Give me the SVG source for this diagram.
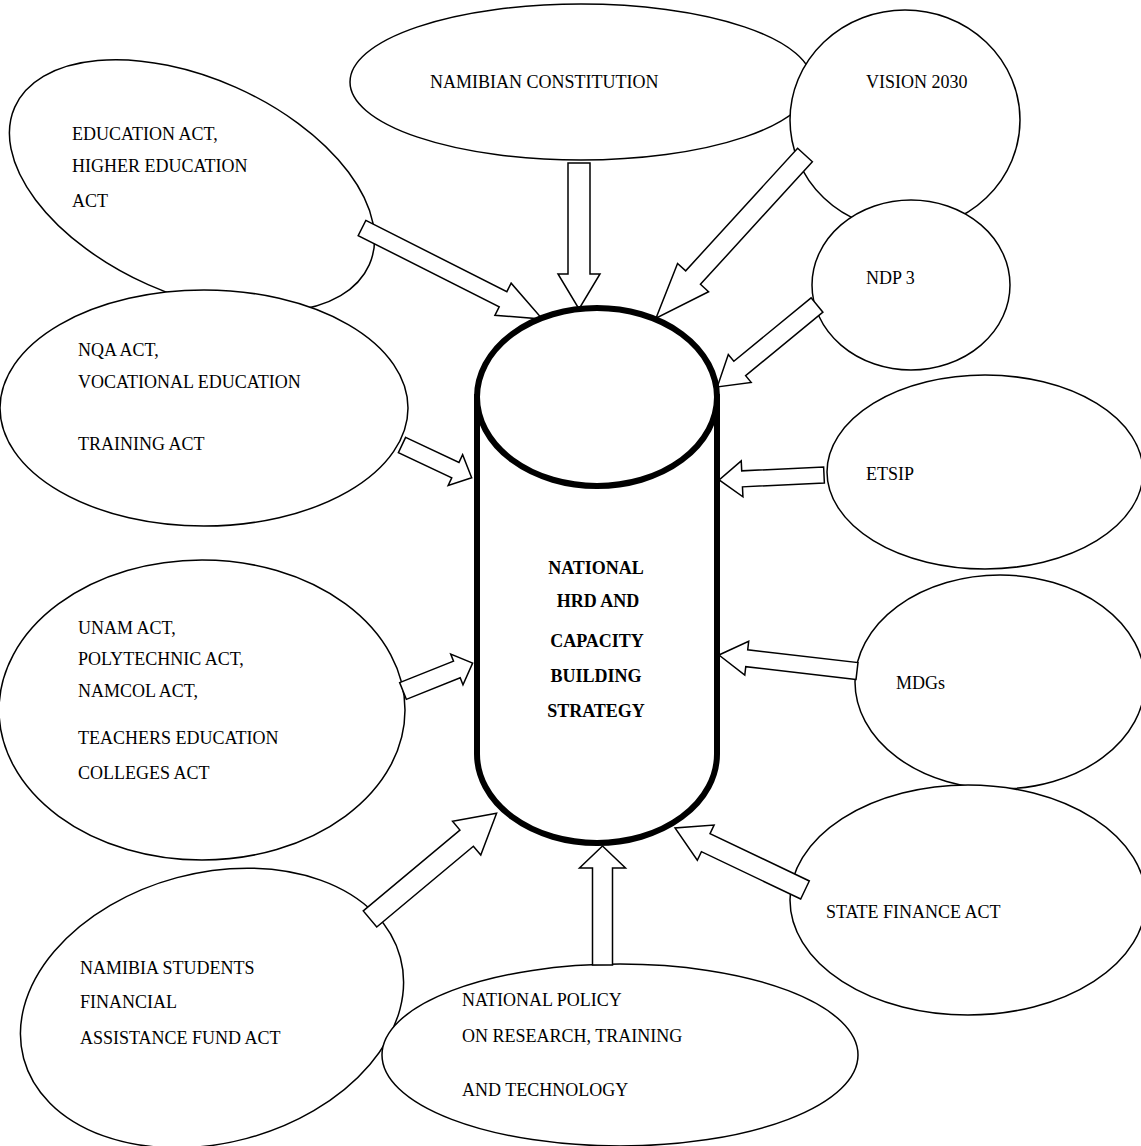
<svg xmlns="http://www.w3.org/2000/svg" width="1141" height="1146" viewBox="0 0 1141 1146">
<style>
.n ellipse{fill:#fff;stroke:#000;stroke-width:1.5}
.a polygon{fill:#fff;stroke:#000;stroke-width:1.5;stroke-linejoin:miter}
text{font-family:"Liberation Serif","Times New Roman",serif;font-size:18px;fill:#000}
.b{font-weight:bold;text-anchor:middle}
</style>
<rect width="1141" height="1146" fill="#fff"/>
<g class="n">
<g id="constitution"><ellipse cx="581" cy="82" rx="231" ry="78"/><text x="430" y="88">NAMIBIAN CONSTITUTION</text></g>
<g id="vision"><ellipse cx="905" cy="120" rx="115" ry="110"/><text x="866" y="88">VISION 2030</text></g>
<g id="education"><ellipse cx="192" cy="186" rx="194" ry="108" transform="rotate(24 192 186)"/><text x="72" y="140">EDUCATION ACT,</text><text x="72" y="172">HIGHER EDUCATION</text><text x="72" y="207">ACT</text></g>
<g id="ndp"><ellipse cx="911" cy="285" rx="99" ry="85"/><text x="866" y="284">NDP 3</text></g>
<g id="nqa"><ellipse cx="204" cy="408" rx="204" ry="118"/><text x="78" y="356">NQA ACT,</text><text x="78" y="388">VOCATIONAL EDUCATION</text><text x="78" y="450">TRAINING ACT</text></g>
<g id="etsip"><ellipse cx="985" cy="472" rx="158" ry="97"/><text x="866" y="480">ETSIP</text></g>
<g id="unam"><ellipse cx="202" cy="710" rx="203" ry="150"/><text x="78" y="634">UNAM ACT,</text><text x="78" y="665">POLYTECHNIC ACT,</text><text x="78" y="697">NAMCOL ACT,</text><text x="78" y="744">TEACHERS EDUCATION</text><text x="78" y="779">COLLEGES ACT</text></g>
<g id="mdgs"><ellipse cx="1000" cy="682" rx="145" ry="107"/><text x="896" y="689">MDGs</text></g>
<g id="statefinance"><ellipse cx="968" cy="900" rx="178" ry="115"/><text x="826" y="918">STATE FINANCE ACT</text></g>
<g id="students"><ellipse cx="212" cy="1008" rx="195" ry="135" transform="rotate(-15 212 1008)"/><text x="80" y="974">NAMIBIA STUDENTS</text><text x="80" y="1008">FINANCIAL</text><text x="80" y="1044">ASSISTANCE FUND ACT</text></g>
<g id="policy"><ellipse cx="620" cy="1055" rx="238" ry="91"/><text x="462" y="1006">NATIONAL POLICY</text><text x="462" y="1042">ON RESEARCH, TRAINING</text><text x="462" y="1096">AND TECHNOLOGY</text></g>
</g>
<g id="connectors" class="a">
<polygon transform="translate(362 228) rotate(26.8)" points="0,-8.5 158,-8.5 158,-18 202,0 158,18 158,8.5 0,8.5"/>
<polygon transform="translate(579 163) rotate(90)" points="0,-11 111,-11 111,-21 146,0 111,21 111,11 0,11"/>
<polygon transform="translate(805 155) rotate(132.4)" points="0,-10 166,-10 166,-21 221,0 166,21 166,10 0,10"/>
<polygon transform="translate(817 305) rotate(140.6)" points="0,-9.3 100,-9.3 100,-18 129,0 100,18 100,9.3 0,9.3"/>
<polygon transform="translate(402 445) rotate(25.2)" points="0,-8.5 59,-8.5 59,-17 77,0 59,17 59,8.5 0,8.5"/>
<polygon transform="translate(824 475) rotate(177.3)" points="0,-8 82,-8 82,-18 105,0 82,18 82,8 0,8"/>
<polygon transform="translate(403 691) rotate(-21.8)" points="0,-9 58,-9 58,-16.5 75,0 58,16.5 58,9 0,9"/>
<polygon transform="translate(857 671) rotate(186.6)" points="0,-8.5 111,-8.5 111,-17 139,0 111,17 111,8.5 0,8.5"/>
<polygon transform="translate(370 919) rotate(-39.9)" points="0,-10.5 126,-10.5 126,-22 165,0 126,22 126,10.5 0,10.5"/>
<polygon transform="translate(602.5 965) rotate(-90)" points="0,-10 97,-10 97,-23 119,0 97,23 97,10 0,10"/>
<polygon transform="translate(805 890) rotate(205.5)" points="0,-10 110,-10 110,-19.5 144,0 110,19.5 110,10 0,10"/>
</g>
<g id="strategy">
<path d="M477,397 L477,754 A120,89 0 0 0 717,754 L717,397 Z" fill="#fff" stroke="#000" stroke-width="6"/>
<ellipse cx="597" cy="397" rx="120" ry="89" fill="#fff" stroke="#000" stroke-width="6"/>
<text class="b" x="596" y="574">NATIONAL</text>
<text class="b" x="598" y="607">HRD AND</text>
<text class="b" x="597" y="647">CAPACITY</text>
<text class="b" x="596" y="682">BUILDING</text>
<text class="b" x="596" y="717">STRATEGY</text>
</g>
</svg>
